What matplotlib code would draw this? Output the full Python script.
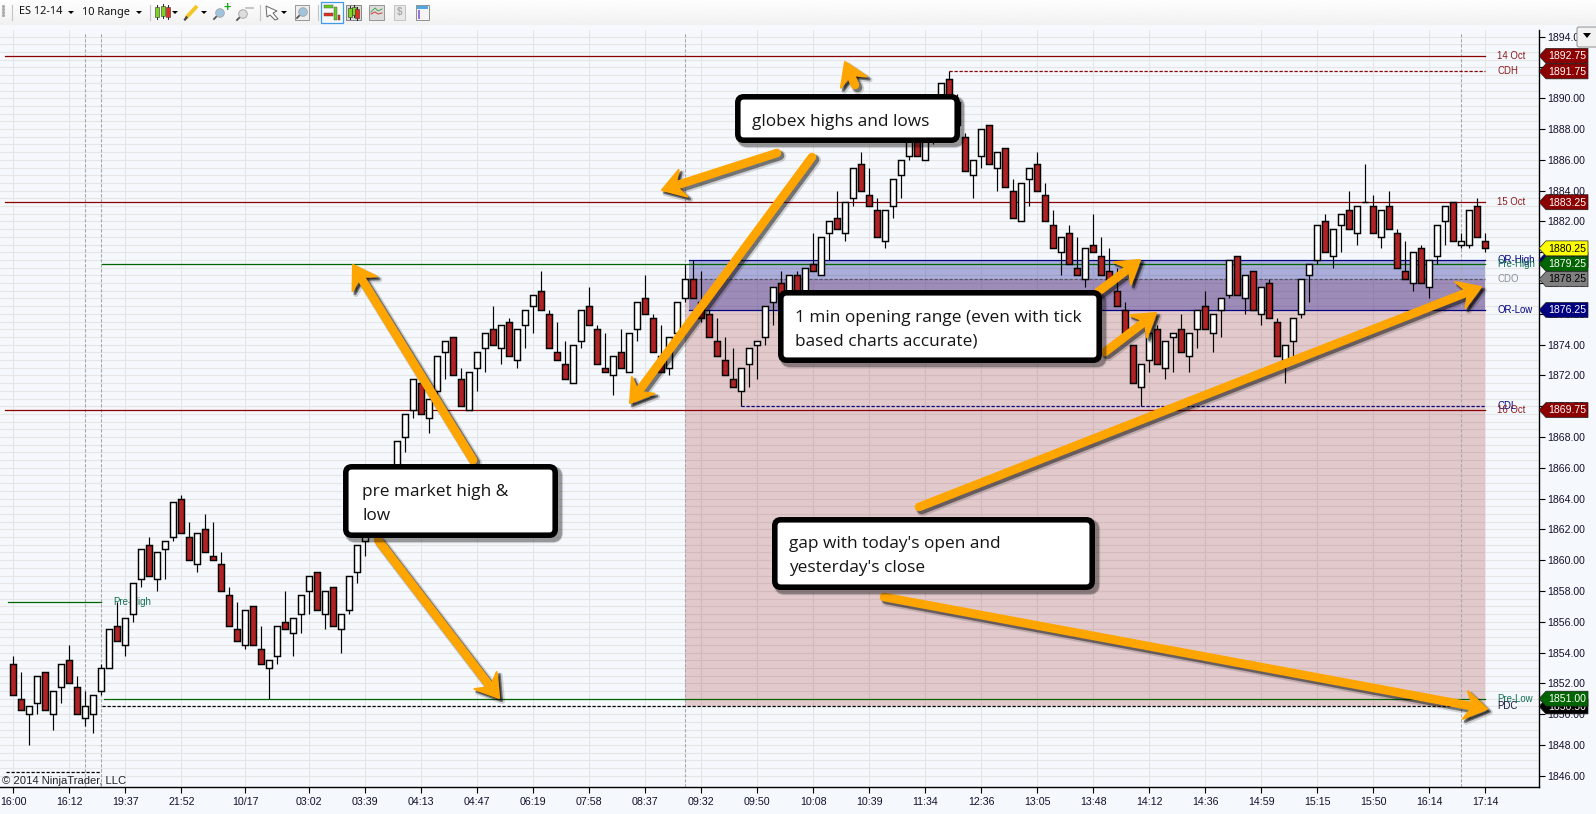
#!/usr/bin/env python3
import numpy as np
import matplotlib
matplotlib.use('Agg')
import matplotlib.pyplot as plt
from matplotlib.patches import Polygon, Rectangle, FancyBboxPatch, Circle

plt.rcParams['font.family'] = ['Liberation Sans', 'DejaVu Sans']

## candles, one row of ten per line
opens = [1853.25,1851.0,1850.0,1850.75,1852.75,1850.0,1851.75,1853.5,1851.75,1849.75,
         1850.0,1851.5,1853.0,1855.75,1854.5,1856.5,1858.75,1861.0,1858.75,1860.75,
         1861.5,1864.0,1861.5,1859.75,1862.0,1860.25,1859.75,1857.75,1855.5,1854.5,
         1857.0,1854.25,1853.0,1853.75,1856.0,1855.25,1856.5,1858.0,1859.25,1856.5,
         1858.25,1855.5,1856.75,1859.25,1861.25,1862.25,1863.5,1865.5,1865.5,1868.0,
         1869.75,1871.5,1869.25,1871.0,1873.5,1874.5,1871.75,1869.75,1872.5,1873.75,
         1875.0,1873.75,1875.5,1873.0,1875.25,1876.5,1877.5,1876.0,1873.5,1872.75,
         1871.5,1874.25,1876.5,1875.0,1872.5,1872.0,1873.5,1872.25,1875.0,1877.0,
         1875.75,1873.25,1872.5,1874.75,1877.0,1878.25,1876.75,1876.0,1874.25,1873.0,
         1871.75,1871.0,1872.75,1874.0,1874.5,1876.75,1878.0,1877.0,1878.5,1877.5,
         1879.25,1878.5,1881.25,1882.25,1881.25,1883.5,1885.75,1883.75,1882.75,1880.75,
         1883.0,1885.0,1886.25,1887.25,1886.0,1887.25,1889.0,1891.25,1889.75,1887.5,
         1885.0,1886.25,1888.25,1885.5,1886.75,1884.0,1882.0,1884.75,1885.75,1883.75,
         1881.75,1880.0,1881.25,1879.0,1878.25,1880.5,1879.75,1878.75,1877.5,1876.25,
         1874.0,1871.25,1873.0,1875.0,1872.5,1874.5,1875.0,1873.25,1875.0,1876.5,
         1874.75,1876.25,1877.25,1879.75,1877.0,1878.75,1876.0,1878.0,1875.5,1873.0,
         1874.25,1876.0,1878.5,1879.5,1882.0,1879.75,1881.75,1882.75,1881.25,1883.25,
         1883.0,1881.0,1883.0,1881.25,1878.75,1878.0,1880.25,1877.75,1879.75,1882.0,
         1883.25,1880.5,1880.5,1883.0,1880.75]
closes = [1851.25,1850.25,1850.5,1852.5,1850.25,1851.5,1853.25,1852.0,1850.0,1850.5,
          1851.25,1853.0,1855.5,1854.75,1856.25,1858.5,1860.75,1859.0,1860.5,1861.25,
          1863.75,1861.75,1860.0,1861.75,1860.5,1860.0,1858.0,1855.75,1854.75,1856.75,
          1854.5,1853.25,1853.5,1855.75,1855.5,1856.25,1857.75,1859.0,1856.75,1858.0,
          1855.75,1856.5,1859.0,1861.0,1862.25,1863.5,1865.5,1864.5,1867.75,1869.5,
          1871.75,1869.5,1870.5,1873.25,1874.25,1872.0,1870.0,1872.25,1873.5,1874.75,
          1874.0,1875.25,1873.25,1875.0,1876.25,1877.25,1876.25,1873.75,1873.0,1871.75,
          1874.0,1876.25,1875.25,1872.75,1872.25,1873.25,1872.5,1874.75,1876.75,1876.0,
          1873.5,1872.25,1874.5,1876.75,1878.25,1877.0,1875.75,1874.5,1873.25,1872.0,
          1871.25,1872.5,1873.75,1874.25,1876.5,1877.75,1877.0,1878.5,1877.25,1879.0,
          1878.75,1881.0,1882.0,1881.5,1883.25,1885.5,1884.0,1883.0,1881.0,1882.75,
          1884.75,1886.0,1887.25,1886.25,1887.25,1889.0,1891.0,1889.25,1888.25,1885.25,
          1886.0,1888.0,1885.75,1886.5,1884.25,1882.25,1884.5,1885.5,1884.0,1882.0,
          1880.25,1881.0,1879.25,1878.5,1880.25,1880.0,1878.5,1878.0,1876.5,1874.75,
          1871.5,1872.75,1874.75,1872.75,1874.25,1874.75,1873.5,1874.75,1876.25,1875.0,
          1876.0,1877.0,1879.5,1877.25,1878.5,1876.25,1877.75,1875.75,1873.25,1874.0,
          1875.75,1878.25,1879.25,1881.75,1880.0,1881.5,1882.5,1881.5,1883.0,1883.25,
          1881.25,1882.75,1881.5,1879.0,1878.25,1880.0,1878.0,1879.5,1881.75,1883.0,
          1880.75,1880.75,1882.75,1881.0,1880.25]
highs = [1853.75,1852.75,1850.5,1852.5,1852.75,1851.5,1853.25,1854.5,1852.5,1851.5,
         1851.25,1853.25,1855.5,1857.25,1856.25,1858.5,1860.75,1861.5,1860.5,1861.25,
         1863.75,1864.25,1862.5,1861.75,1863.0,1862.5,1860.5,1858.25,1857.25,1856.75,
         1857.0,1855.75,1853.5,1855.75,1858.0,1856.25,1857.75,1859.0,1859.25,1858.0,
         1858.25,1856.5,1859.0,1861.0,1862.25,1863.5,1866.25,1865.75,1867.75,1869.5,
         1871.75,1871.75,1870.5,1873.25,1874.25,1874.5,1872.5,1872.25,1873.5,1874.75,
         1876.5,1875.25,1875.75,1875.0,1876.25,1877.25,1878.75,1876.25,1875.5,1874.25,
         1874.0,1876.25,1877.75,1875.25,1874.75,1873.25,1875.0,1874.75,1876.75,1878.5,
         1876.0,1875.25,1874.5,1876.75,1879.25,1879.5,1878.75,1876.25,1875.75,1874.5,
         1873.75,1872.5,1873.75,1874.25,1876.5,1877.75,1878.75,1878.5,1878.75,1879.0,
         1881.25,1881.0,1882.0,1884.0,1883.25,1885.5,1886.5,1885.5,1883.5,1882.75,
         1884.75,1886.0,1887.5,1887.5,1887.25,1889.0,1891.0,1891.75,1890.25,1887.75,
         1886.0,1888.0,1888.25,1886.5,1886.75,1884.75,1884.5,1885.5,1886.5,1884.5,
         1882.75,1881.0,1881.75,1881.0,1880.25,1882.5,1881.0,1880.25,1879.0,1876.75,
         1874.0,1872.75,1874.75,1875.25,1874.25,1874.75,1876.0,1874.75,1876.25,1877.5,
         1876.0,1877.0,1879.5,1879.75,1878.5,1878.75,1877.75,1878.25,1875.75,1874.0,
         1875.75,1878.25,1879.25,1881.75,1882.5,1881.5,1882.5,1884.0,1883.0,1885.75,
         1883.75,1882.75,1884.0,1881.5,1880.75,1880.0,1880.5,1879.5,1881.75,1883.0,
         1883.25,1881.25,1882.75,1883.5,1881.25]
lows = [1851.25,1850.25,1848.0,1850.0,1850.25,1849.0,1850.75,1852.0,1850.0,1849.25,
        1848.75,1851.25,1853.0,1854.75,1853.75,1856.0,1858.25,1859.0,1858.0,1858.75,
        1861.25,1861.75,1860.0,1859.25,1860.5,1860.0,1858.0,1855.75,1854.75,1854.25,
        1854.5,1853.25,1851.0,1853.25,1855.5,1853.75,1855.25,1856.5,1856.75,1855.5,
        1855.75,1854.0,1856.5,1858.5,1860.25,1862.0,1863.25,1864.5,1865.25,1867.0,
        1869.25,1869.5,1868.25,1870.5,1871.75,1872.0,1870.0,1869.75,1871.0,1872.25,
        1874.0,1872.75,1873.25,1872.5,1873.75,1874.75,1876.25,1873.75,1873.0,1871.75,
        1871.5,1873.75,1875.25,1872.75,1872.25,1870.75,1872.5,1872.25,1874.25,1876.0,
        1873.5,1872.25,1872.0,1874.5,1876.75,1877.0,1875.5,1874.5,1873.25,1872.0,
        1871.25,1870.0,1871.25,1871.75,1874.0,1875.25,1877.0,1876.75,1877.25,1877.25,
        1878.75,1878.5,1879.5,1881.5,1880.75,1883.0,1884.0,1883.0,1881.0,1880.25,
        1882.25,1883.5,1886.0,1886.25,1886.0,1887.0,1888.75,1889.25,1888.25,1885.25,
        1883.5,1885.5,1885.75,1884.0,1884.25,1882.25,1882.0,1883.0,1884.0,1882.0,
        1880.25,1878.5,1879.25,1878.5,1877.75,1880.0,1878.5,1878.0,1876.5,1874.75,
        1871.5,1870.0,1872.25,1872.75,1871.75,1872.25,1873.5,1872.25,1873.75,1875.0,
        1873.5,1874.5,1877.0,1877.25,1876.0,1876.25,1875.25,1875.75,1873.25,1871.5,
        1873.25,1875.75,1876.75,1879.25,1880.0,1879.0,1880.0,1881.5,1880.5,1883.25,
        1881.25,1880.25,1881.5,1879.0,1878.25,1877.5,1878.0,1877.0,1879.25,1880.5,
        1880.75,1880.25,1880.25,1881.0,1880.0]

tick_bars = [0,7,14,21,29,37,44,51,58,65,72,79,86,93,100,107,114,121,128,135,142,149,156,163,170,177,184]
tick_labels = ['16:00','16:12','19:37','21:52','10/17','03:02','03:39','04:13','04:47','06:19','07:58',
               '08:37','09:32','09:50','10:08','10:39','11:34','12:36','13:05','13:48','14:12','14:36',
               '14:59','15:15','15:50','16:14','17:14']

level_prices = [1892.75,1883.25,1869.75,1857.25,1879.25,1851.0,1850.5,1846.25,1891.75,1870.0,1878.25,1879.5,1876.25]
level_starts = [-1.0,-1.0,-1.0,-0.7,11.1,11.3,11.1,-0.9,117,91,84.4,84.4,84.4]
level_ends = [184,184,184,10.9,184,184,184,10.9,184,184,184,184,184]
level_colors = ['#8b0000','#8b0000','#8b0000','#006400','#006400','#006400','k','k','#8b0000','#000080','#555566','#000080','#000080']
level_styles = ['-','-','-','-','-','-','--','--','--','--','--','-','-']

session_bars = [8.96,10.96,84,181]

side_names = ['14 Oct','CDH','15 Oct','OR-High','Pre-High','CDO','OR-Low','CDL','16 Oct','Pre-Low','PDC']
side_prices = [1892.75,1891.75,1883.25,1879.5,1879.25,1878.25,1876.25,1870.0,1869.75,1851.0,1850.5]
side_colors = ['#8b1a1a','#8b1a1a','#8b1a1a','#000080','#107050','#8a8f98','#000080','#000080','#8b1a1a','#107050','#101040']

tag_values = [1892.75,1891.75,1883.25,1879.5,1880.25,1879.25,1878.25,1876.25,1869.75,1850.5,1851.0]
tag_fills = ['#8b0000','#8b0000','#8b0000','#000080','#ffff00','#006400','#808080','#000080','#8b0000','k','#006400']
tag_inks = ['w','w','w','w','k','w','k','w','w','w','w']

W, H = 1596, 814
BG = '#f5f8fc'
ORANGE = '#ffa500'

fig = plt.figure(figsize=(W/100, H/100), dpi=100, facecolor=BG)
ax = fig.add_axes([0, (H-787)/H, 1538.5/W, (787-30)/H], facecolor=BG)
ax.set_xlim(-1.6625, 190.65)
ax.set_ylim(1845.266, 1894.435)

ax.set_xticks(tick_bars, tick_labels)
ax.set_yticks(np.arange(1846, 1895, 2))
ax.set_yticks(np.arange(1846, 1894.5, 0.5), minor=True)
ax.yaxis.set_major_formatter(lambda v, pos: '%.2f' % v)
ax.yaxis.tick_right()
ax.tick_params(axis='x', length=4.5, width=0.8, pad=3, labelsize=7.7, labelcolor='#14102e')
ax.tick_params(axis='y', which='major', length=4.5, width=0.8, pad=1.5, labelsize=7.6, labelcolor='#14102e')
ax.tick_params(axis='y', which='minor', length=0)
for s in ['top', 'left']:
    ax.spines[s].set_visible(False)
for s in ['bottom', 'right']:
    ax.spines[s].set_linewidth(1.0)

ax.set_axisbelow(True)
ax.grid(True, axis='y', which='both', color='#e6e6e9', lw=0.8)
ax.grid(True, axis='x', which='major', color='#e6e6e9', lw=0.8)

## shaded gap and opening range
ax.add_patch(Rectangle((84, 1850.5), 100, 1878.25-1850.5, fc=(139/255, 0, 0, 0.19), ec='none', zorder=1.2))
ax.add_patch(Rectangle((84.4, 1876.25), 99.6, 3.25, fc=(0, 0, 140/255, 0.3), ec='none', zorder=1.3))

ax.vlines(session_bars, 1845.27, 1894.25, colors='#a8a8ac', linestyles=(0, (3, 1.5)), lw=0.8, zorder=1.5)

for p, a, b, col, st in zip(level_prices, level_starts, level_ends, level_colors, level_styles):
    ax.plot([a, b], [p, p], color=col, lw=0.9, zorder=2,
            ls=st if st == '-' else (0, (2.6, 1.4)))

ax.text(12.46, 1857.25, 'Pre-High', color='#107050', fontsize=6.9, va='center', zorder=2.5)
for name, p, col in zip(side_names, side_prices, side_colors):
    ax.text(185.5, p, name, color=col, fontsize=6.9, va='center', zorder=2.5)

## candles
bars = np.arange(len(opens))
o = np.array(opens); c = np.array(closes); hi = np.array(highs); lo = np.array(lows)
ax.vlines(bars, lo, hi, colors='k', lw=0.85, zorder=3)
fills = ['w' if c[i] >= o[i] else '#b22222' for i in bars]
ax.bar(bars, np.abs(c-o), bottom=np.minimum(o, c), width=0.72, color=fills, edgecolor='k', lw=1.05, zorder=4)

## overlay in plain pixel coordinates for the drawn annotations and the toolbar
ov = fig.add_axes([0, 0, 1, 1], facecolor='none', zorder=10)
ov.set_xlim(0, W)
ov.set_ylim(H, 0)
ov.axis('off')
fig.canvas.draw()


def price_y(p):
    return H - ax.transData.transform((0, p))[1]


## later flags cover the earlier ones, text included
for k, (val, fill, ink) in enumerate(zip(tag_values, tag_fills, tag_inks)):
    y = price_y(val)
    ov.add_patch(Polygon([(1539, y), (1546, y-7.5), (1588, y-7.5), (1588, y+7.5), (1546, y+7.5)],
                         fc=fill, ec='#202020', lw=0.5, zorder=5+k*0.1))
    ov.text(1548, y+0.3, '%.2f' % val, color=ink, fontsize=7.6, va='center', ha='left', zorder=5.05+k*0.1)

ov.text(2, 781, '\u00a9 2014 NinjaTrader, LLC', color='#222222', fontsize=8.1, va='center')


def callout(x0, y0, x1, y1, lines, tx, tys):
    m = 2.8
    for off, extra, alpha in [(3.5, 2.5, 0.12), (3.5, 1, 0.3)]:
        ov.add_patch(FancyBboxPatch((x0+m+off, y0+m+off), x1-x0-2*m, y1-y0-2*m,
                                    boxstyle='round,pad=0,rounding_size=6', fc='none',
                                    ec=(0, 0, 0, alpha), lw=4+extra, zorder=7))
    ov.add_patch(FancyBboxPatch((x0+m, y0+m), x1-x0-2*m, y1-y0-2*m,
                                boxstyle='round,pad=0,rounding_size=6', fc='w', ec='k', lw=4, zorder=7.1))
    for t, y in zip(lines, tys):
        ov.text(tx, y+1.5, t, family='Open Sans', fontsize=12.45, color='#151515', va='center', ha='left', zorder=7.2)


def arrow(x0, y0, x1, y1):
    d = np.array([x1-x0, y1-y0], dtype=float)
    u = d/np.hypot(*d)
    n = np.array([-u[1], u[0]])
    tip = np.array([x1, y1], dtype=float)
    pts = [tip, tip-22*u+14*n, tip-16*u+3.5*n, tip-16*u-3.5*n, tip-22*u-14*n]
    end = tip-16*u
    for off, extra, alpha in [(3.2, 2.5, 0.15), (2.6, 0.6, 0.45)]:
        ov.plot([x0+off, end[0]+off], [y0+off, end[1]+off], color=(0, 0, 0, alpha),
                lw=6.2+extra, solid_capstyle='round', zorder=6)
        ov.add_patch(Polygon([p+off for p in pts], fc=(0, 0, 0, alpha), ec=(0, 0, 0, alpha),
                             lw=1.5+extra, joinstyle='round', zorder=6))
    ov.plot([x0, end[0]], [y0, end[1]], color=ORANGE, lw=6.2, solid_capstyle='round', zorder=6.1)
    ov.add_patch(Polygon(pts, fc=ORANGE, ec=ORANGE, lw=1.5, joinstyle='round', zorder=6.1))


arrow(855, 85, 845, 62)
arrow(777, 153, 662, 190)
arrow(812, 157, 630, 403)
arrow(473, 460, 353, 265)
arrow(378, 540, 499, 698)
arrow(1098, 292, 1140, 260)
arrow(1105, 352, 1156, 313)
arrow(919, 507, 1481, 287)
arrow(884, 597, 1487, 709)

callout(735, 94, 960, 143, ['globex highs and lows'], 752, [120])
callout(778, 290, 1102, 363, ['1 min opening range (even with tick', 'based charts accurate)'], 795, [316, 340])
callout(343, 464, 558, 538, ['pre market high &', 'low'], 362, [491, 514])
callout(772, 517, 1095, 590, ["gap with today's open and", "yesterday's close"], 789, [543, 567])

## toolbar
grad = np.linspace(0.995, 0.945, 32).reshape(-1, 1)
ov.imshow(grad, extent=(0, W, 25, 0), cmap='gray', vmin=0, vmax=1, aspect='auto', zorder=0.5)
ov.set_xlim(0, W)
ov.set_ylim(H, 0)


def drop(x):
    ov.add_patch(Polygon([(x-3, 11), (x+3, 11), (x, 14)], fc='k', ec='none', zorder=2))


def sep(x):
    ov.plot([x, x], [5, 20], color='#c4c4c4', lw=0.8, zorder=2)


def candle_icon(x, col, y0=6, y1=18):
    ov.plot([x, x], [y0-2, y1+2], color='#222222', lw=0.7, zorder=2)
    ov.add_patch(Rectangle((x-2, y0), 4, y1-y0, fc=col, ec='#333333', lw=0.4, zorder=3))


def lens(x, y, col='#9fc4de'):
    ov.plot([x-6, x-2], [y+6, y+2], color='#555555', lw=1.3, zorder=2)
    ov.add_patch(Circle((x, y), 4.3, fc=col, ec='#aaaaaa', lw=0.7, zorder=3))


for yy in [6, 9, 12, 15]:
    ov.plot([3], [yy], 's', ms=1.1, color='#aaaaaa', zorder=2)
sep(12)
ov.text(19, 12, 'ES 12-14', family='Noto Sans', fontsize=7.9, color='#111111', va='center', zorder=2)
drop(71)
ov.text(82, 12, '10 Range', family='Noto Sans', fontsize=7.9, color='#111111', va='center', zorder=2)
drop(139)
sep(150)
candle_icon(157, '#7ed321', 7, 17)
candle_icon(162.5, '#7ed321', 6, 16)
candle_icon(168, '#e53020', 7, 17)
drop(175)
ov.plot([186, 197], [18, 6], color='#f3c627', lw=2.8, solid_capstyle='butt', zorder=2)
ov.plot([185, 186.5], [19.5, 17.5], color='#444444', lw=1.6, zorder=3)
drop(204)
lens(220, 13)
ov.text(227, 7.5, '+', color='#18a818', fontsize=9, fontweight='bold', ha='center', va='center', zorder=3)
lens(243, 14, '#dddddd')
ov.plot([246, 253], [7.5, 7.5], color='#bbbbbb', lw=1.2, zorder=3)
sep(260)
ov.add_patch(Polygon([(266, 6), (277, 11), (273, 13), (278, 19), (275, 20), (270, 15), (267, 17)],
                     fc='w', ec='#666666', lw=0.7, zorder=2))
drop(284)
ov.add_patch(Rectangle((295, 5), 14, 15, fc='#eeeeee', ec='#888888', lw=0.6, zorder=2))
lens(303, 12)
sep(318)
ov.add_patch(Rectangle((321, 1.5), 22, 21, fc='#f8f8f8', ec='#3d9be9', lw=0.9, zorder=2))
ov.add_patch(Rectangle((324, 5), 9, 3, fc='#66cc22', ec='#444444', lw=0.3, zorder=3))
ov.add_patch(Rectangle((324, 13), 9, 3, fc='#e53020', ec='#444444', lw=0.3, zorder=3))
ov.add_patch(Rectangle((334, 7), 3, 13, fc='#66cc22', ec='#444444', lw=0.3, zorder=3))
ov.add_patch(Rectangle((337.5, 15), 2.5, 5, fc='#e53020', ec='#444444', lw=0.3, zorder=3))
ov.add_patch(Rectangle((346, 5), 15, 15, fc='#d8d8d8', ec='#777777', lw=0.6, zorder=2))
candle_icon(350, '#7ed321', 8, 17)
candle_icon(353.5, '#7ed321', 7, 15)
candle_icon(357, '#e53020', 9, 18)
ov.add_patch(Rectangle((369, 5), 15, 15, fc='#dcdcdc', ec='#888888', lw=0.6, zorder=2))
ov.plot([371, 375, 378, 382], [12, 8, 11, 9], color='#4aa84a', lw=0.7, zorder=3)
ov.plot([371, 375, 378, 382], [14, 12, 14, 13], color='#d04040', lw=0.7, zorder=3)
ov.add_patch(Rectangle((394, 5), 11, 15, fc='#e8e8e8', ec='#bbbbbb', lw=0.6, zorder=2))
ov.text(399.5, 12.5, '$', color='#aaaaaa', fontsize=7, ha='center', va='center', zorder=3, fontweight='bold')
ov.add_patch(Rectangle((416, 5), 13, 15, fc='#f4f4f4', ec='#808080', lw=0.6, zorder=2))
ov.add_patch(Rectangle((417, 6), 11, 2.5, fc='#4fa8e0', ec='none', zorder=3))
ov.add_patch(Rectangle((417.5, 9.5), 2.5, 9.5, fc='#a070e0', ec='none', zorder=3))

## scale menu button
ov.add_patch(FancyBboxPatch((1577, 27), 22, 20, boxstyle='round,pad=0,rounding_size=2', fc='#f2f2f2', ec='#9a9a9a', lw=0.8, zorder=5))
ov.add_patch(Polygon([(1583, 33), (1591, 33), (1587, 38)], fc='k', ec='none', zorder=5.1))

fig.savefig('out.png', dpi=100, facecolor=BG)
